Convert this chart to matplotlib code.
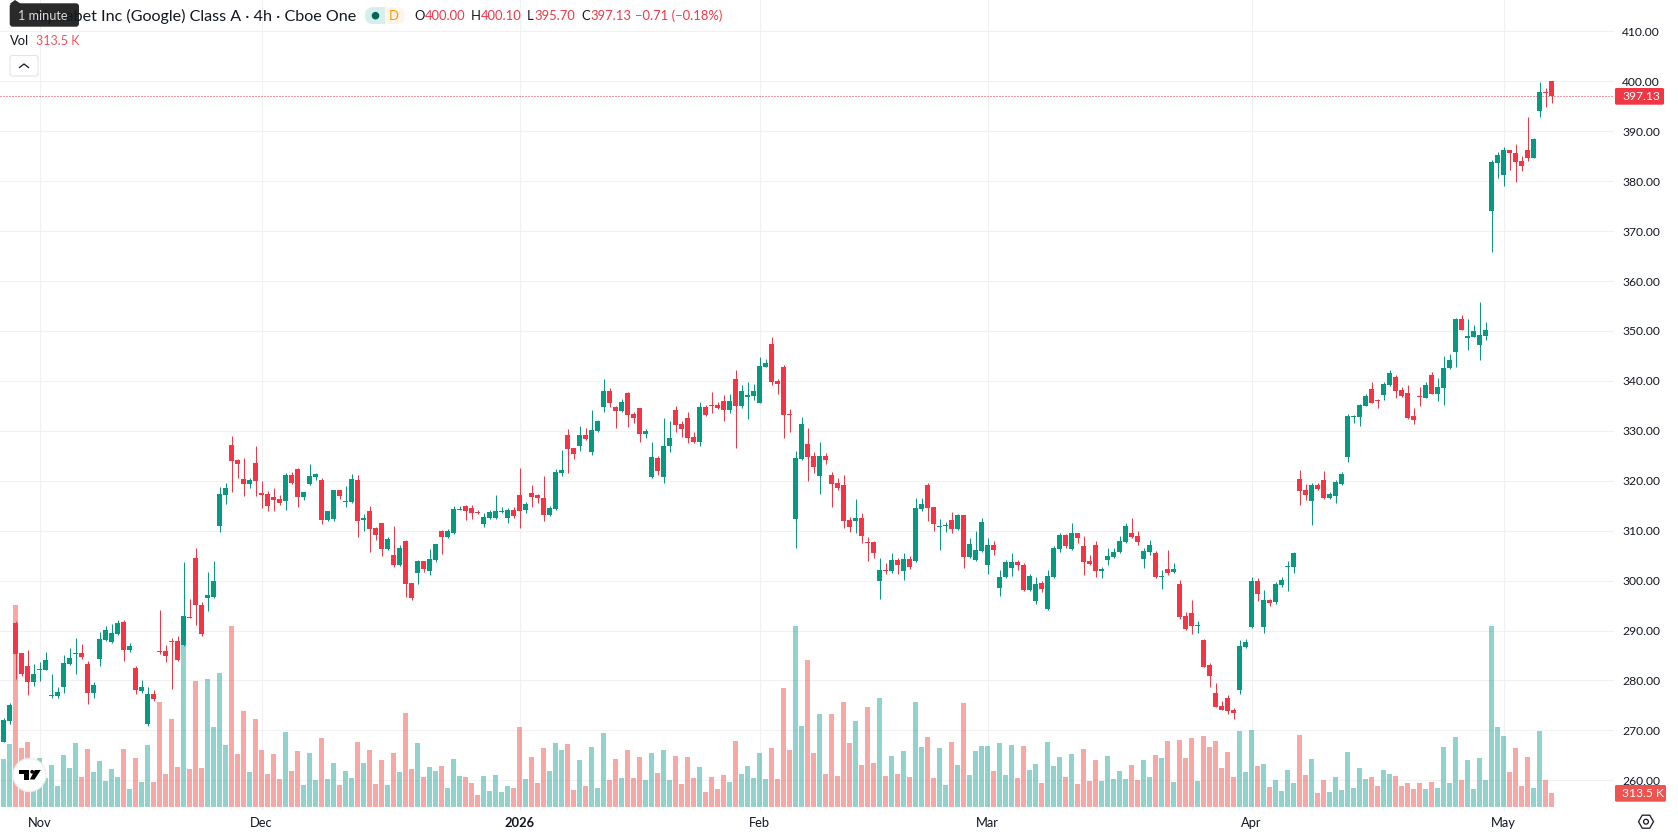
import matplotlib
matplotlib.use('Agg')
import numpy as np
import matplotlib.pyplot as plt
from matplotlib.patches import Circle, FancyBboxPatch, Polygon, Rectangle, RegularPolygon

plt.rcParams['font.family'] = ['Lato', 'DejaVu Sans']

W, H = 1678, 835
PANE_RIGHT, PANE_BOTTOM = 1614, 811

opens = [267.67,271.87,291.47,285.47,282.87,279.67,282.10,282.07,276.85,276.87,
         278.67,283.27,285.30,285.47,283.27,277.47,284.27,288.07,287.67,289.27,
         291.67,286.07,282.47,277.87,271.27,277.27,285.90,285.87,287.90,287.87,
         287.07,292.80,304.47,295.07,296.47,296.67,310.87,317.07,327.07,324.07,
         320.27,319.27,323.47,317.47,317.27,316.67,316.27,315.87,321.07,322.27,
         316.67,319.27,320.67,320.07,312.07,312.27,318.07,315.70,315.67,320.07,
         312.07,313.87,310.47,311.47,306.27,305.07,303.07,307.87,299.47,301.47,
         303.87,301.87,304.07,309.87,308.67,309.47,314.10,314.87,314.47,313.70,
         311.27,312.47,312.47,313.67,312.47,314.07,317.07,314.07,317.47,317.07,
         316.47,313.07,314.27,321.47,329.07,326.47,326.87,329.07,325.67,329.87,
         334.67,338.07,334.67,333.87,337.67,333.27,334.47,329.27,320.67,324.47,
         320.67,326.87,334.07,331.27,332.47,328.67,327.67,334.67,335.27,335.07,
         336.07,334.07,340.47,334.87,336.87,337.07,335.67,342.87,347.47,340.07,
         342.87,333.30,312.27,324.27,327.27,324.87,320.87,324.87,321.07,319.47,
         319.07,312.07,311.87,312.47,307.70,307.67,299.87,302.10,301.87,304.07,
         301.87,304.27,303.87,314.27,319.07,314.67,310.70,310.90,312.07,310.27,
         313.07,304.67,304.07,305.87,303.07,307.07,298.47,300.67,302.47,303.67,
         303.07,298.07,295.87,299.47,294.27,300.67,306.27,309.07,306.27,309.47,
         306.87,303.87,307.07,301.87,304.07,304.67,305.67,307.67,309.47,308.87,
         304.27,305.67,305.47,300.80,302.27,301.67,299.27,292.87,293.47,290.90,
         288.07,283.07,277.47,274.87,276.47,274.07,278.07,286.67,290.67,299.87,
         290.67,296.07,295.67,299.07,302.70,302.67,320.27,318.07,315.87,319.07,
         320.07,316.47,316.87,319.27,324.67,332.80,332.67,335.07,338.47,336.10,
         337.27,339.27,340.87,338.27,337.67,332.87,336.90,336.67,341.27,337.47,
         338.67,342.67,345.87,352.47,348.50,348.87,347.27,349.07,374.07,383.67,
         381.27,386.27,385.67,384.07,386.27,384.67,394.07,397.90,400.00]

highs = [272.40,275.47,291.87,285.50,286.07,283.27,283.67,285.67,281.27,278.67,
         285.07,286.47,288.47,287.27,283.87,279.67,289.67,290.87,291.27,292.07,
         292.07,287.47,282.87,280.07,278.67,278.07,294.07,287.07,288.47,288.87,
         303.67,296.27,306.47,295.67,301.67,303.87,318.67,319.47,328.87,324.27,
         324.47,320.47,326.87,319.87,317.87,318.47,317.07,321.47,321.67,322.47,
         317.70,323.27,321.47,320.47,313.90,318.10,318.10,318.87,321.27,321.07,
         313.27,314.87,310.67,311.50,308.67,310.87,307.07,308.07,299.50,304.07,
         303.90,306.27,307.30,310.07,310.27,314.87,314.87,315.07,315.07,314.07,
         313.47,314.07,317.07,314.67,314.47,314.67,322.47,315.67,319.07,317.27,
         320.87,314.87,322.27,326.07,330.27,326.50,330.87,330.47,334.07,332.07,
         340.47,338.67,334.87,336.47,337.70,333.67,334.50,330.27,327.67,324.87,
         332.47,331.87,335.07,331.87,333.67,329.67,335.87,335.27,337.87,335.87,
         337.27,337.47,342.27,339.27,339.87,339.47,344.87,344.47,348.87,340.47,
         343.27,334.27,325.87,332.67,330.47,325.67,327.67,325.47,321.67,320.47,
         321.07,312.67,316.27,313.47,308.67,307.87,304.47,303.47,305.47,304.47,
         305.47,304.87,316.47,316.47,319.47,314.70,312.27,311.67,313.67,313.27,
         313.10,308.47,309.87,312.47,308.47,307.87,302.07,304.07,305.47,304.07,
         303.47,301.27,300.67,299.87,302.07,306.87,309.47,309.27,311.47,309.50,
         308.87,305.07,307.87,302.67,306.47,306.47,308.87,311.47,312.47,309.87,
         306.47,308.07,305.87,302.07,306.07,303.47,300.07,293.67,296.07,291.87,
         288.27,283.47,279.47,275.87,277.07,274.47,288.07,288.27,300.67,300.47,
         298.07,296.27,299.67,300.67,303.87,305.67,322.07,319.27,319.47,319.47,
         321.87,317.67,320.07,321.67,333.27,333.07,335.30,337.47,339.87,336.47,
         339.87,342.27,341.27,338.87,339.27,334.47,338.87,339.87,341.87,340.67,
         345.07,345.47,352.60,353.27,352.47,351.27,355.87,351.87,384.27,385.87,
         386.87,386.30,387.47,385.07,392.87,388.67,399.87,398.67,400.10]

lows = [267.60,271.27,280.27,280.87,277.07,278.87,279.87,282.00,276.47,276.47,
        277.47,283.07,281.27,284.27,275.27,276.47,282.87,288.00,287.47,289.07,
        283.87,285.67,277.27,277.47,270.87,275.87,285.27,283.67,278.27,284.00,
        287.00,292.60,291.07,288.87,293.87,296.60,309.67,315.27,317.67,320.47,
        316.87,318.47,316.87,314.47,313.87,313.87,315.07,314.07,319.27,314.67,
        316.07,319.20,320.07,311.27,312.00,311.87,316.27,314.67,315.60,308.67,
        309.87,305.67,308.07,304.87,306.20,302.67,303.00,296.67,296.07,299.27,
        301.67,301.07,303.67,305.27,308.47,309.40,314.07,312.07,312.27,313.27,
        310.67,312.27,312.40,313.60,311.47,312.47,310.47,313.47,314.67,315.47,
        311.87,313.00,314.20,320.87,321.47,324.27,325.87,328.20,325.07,329.67,
        333.67,334.67,330.47,333.67,330.67,331.47,327.67,328.47,320.47,321.07,
        319.47,325.67,329.67,328.67,327.47,327.47,326.87,333.00,333.47,334.27,
        331.87,333.47,326.47,334.47,332.27,336.27,335.60,342.80,339.27,337.47,
        328.47,329.67,306.47,324.07,319.87,321.47,317.27,323.27,314.67,318.20,
        310.47,309.67,309.47,307.47,303.87,304.47,296.27,301.27,301.47,301.27,
        300.07,302.27,303.80,313.87,311.87,309.87,306.07,309.67,309.47,310.20,
        302.47,304.60,303.87,305.80,301.27,305.07,296.87,300.60,300.87,302.07,
        298.00,298.00,295.27,297.67,294.07,300.60,305.67,306.47,306.07,307.47,
        301.07,303.07,300.67,300.47,303.07,304.60,305.47,307.60,308.60,307.07,
        302.47,305.07,300.47,298.27,301.07,301.47,292.27,290.20,289.27,289.47,
        282.60,278.67,274.60,274.00,273.27,272.27,277.27,286.47,290.47,295.87,
        289.47,294.87,295.27,298.67,297.87,301.47,315.07,316.07,311.07,318.07,
        316.40,316.27,315.47,319.07,323.67,331.47,330.87,335.00,335.60,334.47,
        336.27,339.07,336.67,336.87,332.40,331.27,335.07,336.60,337.40,336.07,
        335.27,342.47,342.87,350.20,346.27,348.80,344.27,348.27,365.87,380.67,
        379.07,382.27,379.87,382.07,384.07,384.60,392.87,394.87,395.70]

closes = [272.07,275.07,285.27,281.27,279.67,281.27,282.30,284.07,277.05,277.67,
          283.47,284.47,285.50,284.67,277.47,279.07,288.27,290.07,289.47,291.47,
          286.07,286.87,278.07,278.67,277.27,276.27,285.70,284.87,287.70,284.07,
          292.87,292.60,295.07,289.27,297.07,299.87,317.27,318.47,323.87,323.27,
          319.27,320.07,319.87,317.07,314.87,316.07,315.47,321.07,319.47,316.67,
          317.67,320.87,321.27,312.07,313.87,318.07,316.87,315.90,320.27,311.87,
          312.47,310.27,309.07,306.27,308.27,303.07,306.47,299.27,296.47,303.87,
          302.27,304.27,307.27,308.67,309.87,314.27,314.30,313.87,313.47,313.50,
          312.67,313.67,313.87,313.87,314.07,312.87,313.87,315.27,316.67,316.47,
          313.07,314.47,321.67,322.07,326.27,325.27,329.07,328.27,330.07,331.87,
          338.07,335.67,333.87,335.87,333.07,332.47,329.27,329.87,324.67,321.87,
          326.87,328.47,331.07,330.27,328.47,327.67,334.67,333.07,334.87,334.47,
          334.07,336.07,334.87,338.07,337.27,338.07,343.07,343.67,339.87,339.47,
          333.07,333.10,324.47,331.27,324.67,322.67,324.87,324.07,319.27,318.47,
          311.87,310.67,312.47,308.87,307.50,305.47,302.07,301.90,304.07,303.07,
          304.27,302.67,314.47,315.27,314.47,311.27,310.90,311.10,310.27,313.07,
          304.67,307.27,306.07,311.67,307.07,306.07,300.67,303.67,303.67,303.07,
          298.07,300.87,299.27,298.27,300.87,306.47,309.07,306.87,309.47,308.47,
          303.67,303.27,301.87,302.27,304.87,305.67,307.87,310.87,308.67,307.67,
          305.87,307.07,300.67,301.00,301.47,302.27,292.67,290.27,290.87,291.10,
          282.67,280.87,274.67,274.07,273.87,273.47,286.87,287.67,299.87,297.27,
          296.07,295.47,299.27,300.07,302.90,305.47,317.87,317.07,319.07,318.27,
          316.47,317.27,319.67,321.27,332.87,333.00,335.27,337.07,335.67,335.90,
          339.47,341.67,338.07,337.07,332.47,332.07,336.70,339.27,337.47,338.87,
          342.67,344.27,352.47,350.27,349.00,350.07,349.27,350.27,383.87,385.27,
          386.27,385.67,383.87,383.07,384.67,388.47,397.87,397.70,397.13]

# volume in thousands of shares
volumes = [1075,1411,4523,1321,1455,896,1097,649,940,470,
           1164,873,1433,672,1299,784,1030,582,851,672,
           1299,403,1097,560,1388,560,2351,739,1970,896,
           3627,851,2821,873,2866,1791,3000,1388,4053,1187,
           2149,784,1970,1276,739,1187,627,1679,806,1254,
           493,1209,605,1545,627,985,493,806,649,1455,
           985,1276,515,1052,493,1209,784,2105,851,1433,
           672,896,806,918,425,1075,694,672,537,269,
           694,358,716,336,470,425,1791,627,1120,537,
           1321,806,1433,1276,1411,381,1052,470,1343,425,
           1657,605,1075,649,1276,649,1120,605,1209,761,
           1276,605,1142,515,1120,649,896,336,672,403,
           716,560,1478,739,918,649,1209,627,1321,627,
           2664,1276,4053,1814,3291,1209,2082,739,2082,694,
           2351,1433,1926,940,2239,985,2441,694,1142,739,
           1254,672,2351,1343,1567,649,1321,493,1455,940,
           2329,716,1254,1366,1366,806,1433,716,1388,649,
           1366,828,963,537,1455,918,1120,672,1187,515,
           1299,582,1052,582,1142,627,806,627,940,605,
           1052,672,1164,1097,1478,560,1500,1097,1545,582,
           1590,1343,1478,873,1231,672,1702,784,1724,918,
           963,448,605,358,828,537,1612,716,1075,313.5,
           605,336,672,381,1231,425,873,627,672,470,
           828,739,694,470,537,403,537,403,560,425,
           1343,537,1567,605,1052,403,1097,605,4053,1791,
           1590,784,1321,470,1120,425,1702,605,313.5]

price_ticks = [260, 270, 280, 290, 300, 310, 320, 330, 340, 350, 360, 370, 380, 390, 400, 410]
date_ticks = [6, 43, 86, 126, 164, 208, 250]
date_labels = ['Nov', 'Dec', '2026', 'Feb', 'Mar', 'Apr', 'May']
last_price = closes[-1]
ohlc_labels = ['O', 'H', 'L', 'C']
ohlc_values = ['400.00', '400.10', '395.70', '397.13']

UP, DOWN = '#089981', '#f23645'
VOL_UP, VOL_DOWN = (38/255, 166/255, 154/255, 0.5), (239/255, 83/255, 80/255, 0.5)
INK = '#131722'
GRID = '#f1f1f2'
SCALE_FS = 8.7
HEAD_FS = 9.4

o, h, l, c = map(np.array, (opens, highs, lows, closes))
v = np.array(volumes)
idx = np.arange(len(o))
rising = c >= o

fig = plt.figure(figsize=(W / 100, H / 100), dpi=100, facecolor='white')
rect = [0, 1 - PANE_BOTTOM / H, PANE_RIGHT / W, PANE_BOTTOM / H]

# grid and tick labels live on the bottom axes, volume and candles go on top of it
ax = fig.add_axes(rect, zorder=1)
vol_ax = fig.add_axes(rect, zorder=2, sharex=ax)
candle_ax = fig.add_axes(rect, zorder=3, sharex=ax, sharey=ax)

ax.set_xlim(-3.5 / 6, (PANE_RIGHT - 3.5) / 6)
ax.set_ylim(253.86, 416.28)
vol_ax.set_ylim(-4 * 22.39, 807 * 22.39)

ax.grid(True, color=GRID, linewidth=0.75)
ax.set_axisbelow(True)
for s in ax.spines.values():
    s.set_visible(False)
ax.yaxis.tick_right()
ax.set_yticks(price_ticks)
ax.set_yticklabels(['%.2f' % p for p in price_ticks], color=INK, fontsize=SCALE_FS)
ax.tick_params(axis='y', length=0, pad=5.8)
ax.set_xticks(date_ticks)
ax.set_xticklabels(date_labels, color=INK, fontsize=SCALE_FS + 0.6)
ax.tick_params(axis='x', length=0, pad=4)
ax.get_xticklabels()[2].set_fontweight('bold')

vol_ax.axis('off')
vol_ax.patch.set_visible(False)
vol_ax.bar(idx, v, width=5 / 6, color=[VOL_UP if r else VOL_DOWN for r in rising], linewidth=0)

candle_ax.axis('off')
candle_ax.patch.set_visible(False)
colors = [UP if r else DOWN for r in rising]
ax.axhline(last_price, color=DOWN, linewidth=0.72, linestyle=(0, (1, 2)))
wicks = candle_ax.vlines(idx, l, h, colors=colors, linewidth=0.72)
wicks.set_snap(True)
candle_ax.bar(idx, np.abs(c - o), bottom=np.minimum(o, c), width=5 / 6, color=colors, linewidth=0)

# header, tags and buttons are placed in pixel coordinates
ui = fig.add_axes([0, 0, 1, 1], zorder=4)
ui.set_xlim(0, W)
ui.set_ylim(H, 0)
ui.axis('off')
ui.patch.set_visible(False)

ui.text(356, 16, 'Alphabet Inc (Google) Class A · 4h · Cboe One', ha='right', va='center',
        fontsize=11.6, color=INK)
ui.add_patch(FancyBboxPatch((365, 7.3), 40, 16.7, boxstyle='round,pad=0,rounding_size=8',
                            fc='#fff4e8', ec='none'))
ui.add_patch(FancyBboxPatch((365, 7.3), 20, 16.7, boxstyle='round,pad=0,rounding_size=8',
                            fc='#d7efea', ec='none'))
ui.add_patch(Rectangle((376, 7.3), 9, 16.7, fc='#d7efea', ec='none'))
ui.add_patch(Circle((375.5, 15.7), 3.8, fc='#056656', ec='none'))
ui.text(394, 16, 'D', ha='center', va='center', fontsize=HEAD_FS, color='#ff9800')

letter_x = [414, 471, 527, 581]
value_x = [425, 481, 534, 590]
for lab, val, lx, vx in zip(ohlc_labels, ohlc_values, letter_x, value_x):
    ui.text(lx, 16, lab, ha='left', va='center', fontsize=HEAD_FS, color=INK)
    ui.text(vx, 16, val, ha='left', va='center', fontsize=HEAD_FS, color=DOWN)
ui.text(635, 16, '−0.71 (−0.18%)', ha='left', va='center', fontsize=HEAD_FS, color=DOWN)

ui.text(10, 41, 'Vol', ha='left', va='center', fontsize=HEAD_FS, color=INK)
ui.text(36, 41, '313.5 K', ha='left', va='center', fontsize=9, color='#f7525f')

ui.add_patch(FancyBboxPatch((10, 55.5), 28, 20.5, boxstyle='round,pad=0,rounding_size=2.5',
                            fc='white', ec='#e0e3eb', lw=0.75))
ui.plot([19.5, 24, 28.5], [67.5, 64, 67.5], color=INK, lw=0.9)

# last price and last volume tags on the scale
ui.add_patch(FancyBboxPatch((1615, 88), 49, 16.7, boxstyle='round,pad=0,rounding_size=1.5',
                            fc=DOWN, ec='none'))
ui.text(1622, 96.4, '397.13', ha='left', va='center', fontsize=SCALE_FS, color='white')
ui.add_patch(FancyBboxPatch((1615, 785), 51, 16.7, boxstyle='round,pad=0,rounding_size=1.5',
                            fc='#ef5350', ec='none'))
ui.text(1622, 793.4, '313.5 K', ha='left', va='center', fontsize=SCALE_FS, color='white')

# settings icon
ui.add_patch(RegularPolygon((1646, 821.7), 6, radius=7.5, orientation=np.pi / 6,
                            fc='none', ec=INK, lw=0.9))
ui.add_patch(Circle((1646, 821.7), 2.4, fc='none', ec=INK, lw=0.9))

# interval tooltip over the start of the title
ui.add_patch(Polygon([(9.7, 4), (15, 0), (21, 4)], fc='#2a2a2a', ec='none'))
ui.add_patch(FancyBboxPatch((9.7, 3.3), 69.3, 23.4, boxstyle='round,pad=0,rounding_size=3',
                            fc='#2a2a2a', ec='none'))
ui.text(43, 15.5, '1 minute', ha='center', va='center', fontsize=9.1, color='#dcdcdc')

# logo badge
ui.add_patch(Circle((29.5, 775), 16.5, fc='white', ec='#eeeeee', lw=1))
ui.add_patch(Polygon([(19, 770), (29.3, 770), (29.3, 779.5), (24, 779.5), (24, 773.5), (19, 773.5)],
                     fc='black', ec='none'))
ui.add_patch(Circle((32.2, 771.8), 1.9, fc='black', ec='none'))
ui.add_patch(Polygon([(34.8, 770), (40.8, 770), (34.5, 779.5), (29.8, 779.5)], fc='black', ec='none'))

fig.savefig('out.png', dpi=100)
